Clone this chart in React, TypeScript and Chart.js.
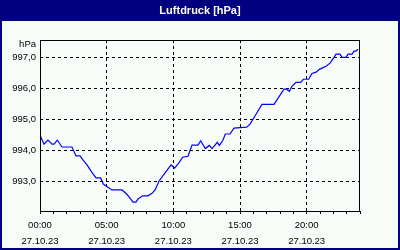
import React, { useEffect, useRef } from "react";
import { Chart, registerables } from "chart.js";

Chart.register(...registerables);

const TITLE = "Luftdruck [hPa]";
const UNIT = "hPa";
const DATE_LABEL = "27.10.23";

// hours since 00:00 on 27.10.23
const hours: number[] = [
  0.0, 0.3, 0.6, 0.9, 1.05, 1.3, 1.65, 2.4, 2.7, 3.0, 3.22, 3.53, 3.83, 4.2,
  4.55, 4.75, 4.95, 5.4, 6.15, 6.5, 6.75, 6.98, 7.2, 7.35, 7.7, 8.1, 8.4,
  8.63, 8.93, 9.38, 9.83, 10.1, 10.4, 10.7, 11.1, 11.4, 11.85, 12.05, 12.4,
  12.7, 12.9, 13.3, 13.45, 13.7, 13.9, 14.25, 14.55, 15.5, 15.75, 16.2,
  16.65, 17.55, 18.3, 18.5, 18.7, 18.9, 19.2, 19.55, 19.75, 20.15, 20.4,
  20.7, 20.95, 21.15, 21.45, 21.75, 22.05, 22.2, 22.5, 22.65, 22.95, 23.1,
  23.4, 23.55, 23.7, 23.85,
];

const pressure: number[] = [
  994.48, 994.19, 994.32, 994.19, 994.19, 994.32, 994.1, 994.1, 993.81,
  993.81, 993.68, 993.52, 993.32, 993.1, 993.1, 992.9, 992.84, 992.71,
  992.71, 992.58, 992.45, 992.32, 992.32, 992.42, 992.52, 992.52, 992.6,
  992.71, 993.0, 993.26, 993.52, 993.42, 993.58, 993.77, 993.8, 994.16,
  994.16, 994.3, 994.05, 994.15, 994.05, 994.25, 994.15, 994.3, 994.52,
  994.52, 994.71, 994.74, 994.84, 995.16, 995.48, 995.48, 995.97, 995.97,
  995.9, 996.06, 996.19, 996.19, 996.29, 996.29, 996.48, 996.52, 996.61,
  996.65, 996.71, 996.81, 997.0, 997.1, 997.1, 997.0, 997.0, 997.1, 997.1,
  997.2, 997.2, 997.26,
];

const yTicks: number[] = [993, 994, 995, 996, 997];
const xLabelHours: number[] = [0, 5, 10, 15, 20];
const xLabelTimes: string[] = ["00:00", "05:00", "10:00", "15:00", "20:00"];

const FONT = "'Liberation Sans', Arial, sans-serif";

const framePlugin = {
  id: "frame",
  beforeDraw(chart: any) {
    const { ctx, width, height } = chart;
    ctx.save();
    ctx.fillStyle = "#F8FCF8";
    ctx.fillRect(0, 0, width, height);
    ctx.fillStyle = "#000080";
    ctx.fillRect(0, 0, width, 21);
    ctx.fillRect(0, 0, 2, height);
    ctx.fillRect(width - 2, 0, 2, height);
    ctx.fillRect(0, height - 2, width, 2);
    ctx.fillStyle = "#FFFFFF";
    ctx.font = `bold 11px ${FONT}`;
    ctx.textAlign = "center";
    ctx.textBaseline = "middle";
    ctx.fillText(TITLE, width / 2, 10.5);
    ctx.restore();
  },
  afterDraw(chart: any) {
    const { ctx, chartArea } = chart;
    ctx.save();
    ctx.strokeStyle = "#000000";
    ctx.lineWidth = 1;
    ctx.setLineDash([]);
    ctx.strokeRect(
      chartArea.left + 0.5,
      chartArea.top + 0.5,
      chartArea.right - chartArea.left - 1,
      chartArea.bottom - chartArea.top
    );
    ctx.fillStyle = "#000000";
    ctx.font = `9.5px ${FONT}`;
    ctx.textAlign = "right";
    ctx.textBaseline = "middle";
    ctx.fillText(UNIT, chartArea.left - 4, chartArea.top + 4);
    ctx.restore();
  },
};

export default function App() {
  const ref = useRef<HTMLCanvasElement>(null);

  useEffect(() => {
    if (!ref.current) return;
    const chart = new Chart(ref.current, {
      type: "line",
      data: {
        datasets: [
          {
            data: hours.map((h, i) => ({ x: h, y: pressure[i] })),
            borderColor: "#0000FF",
            borderWidth: 1.2,
            pointRadius: 0,
            tension: 0,
            fill: false,
          },
        ],
      },
      plugins: [framePlugin],
      options: {
        responsive: false,
        animation: false,
        events: [],
        layout: { padding: { left: 0, top: 40, right: 40, bottom: 0 } },
        plugins: {
          legend: { display: false },
          tooltip: { enabled: false },
          title: { display: false },
        },
        scales: {
          x: {
            type: "linear",
            min: 0,
            max: 24,
            afterFit(scale: any) {
              scale.height = 39;
            },
            ticks: {
              stepSize: 1,
              autoSkip: false,
              maxRotation: 0,
              minRotation: 0,
              padding: 3,
              color: "#000000",
              font: { family: FONT, size: 9.5, lineHeight: 16 / 9.5 },
              callback: (v: any) => {
                const idx = xLabelHours.indexOf(Number(v));
                return idx >= 0 ? [xLabelTimes[idx], DATE_LABEL] : "";
              },
            },
            grid: {
              color: (c: any) => {
                const v = c.tick ? c.tick.value : -1;
                return v > 0 && v < 24 && v % 5 === 0 ? "#000000" : "rgba(0,0,0,0)";
              },
              lineWidth: 1,
              drawTicks: true,
              tickLength: 3,
              tickColor: "#000000",
            },
            border: { display: false, dash: [3, 3] },
          },
          y: {
            type: "linear",
            min: 992.03,
            max: 997.56,
            afterFit(scale: any) {
              scale.width = 40;
            },
            afterBuildTicks(scale: any) {
              scale.ticks = yTicks.map((v) => ({ value: v }));
            },
            ticks: {
              padding: 4,
              color: "#000000",
              font: { family: FONT, size: 9.5 },
              callback: (v: any) => Number(v).toFixed(1).replace(".", ","),
            },
            grid: {
              color: "#000000",
              lineWidth: 1,
              drawTicks: false,
            },
            border: { display: false, dash: [3, 3] },
          },
        },
      },
    } as any);
    return () => chart.destroy();
  }, []);

  return (
    <div style={{ position: "absolute", left: 0, top: 0, width: 400, height: 250 }}>
      <canvas ref={ref} width={400} height={250} style={{ width: 400, height: 250 }} />
    </div>
  );
}
